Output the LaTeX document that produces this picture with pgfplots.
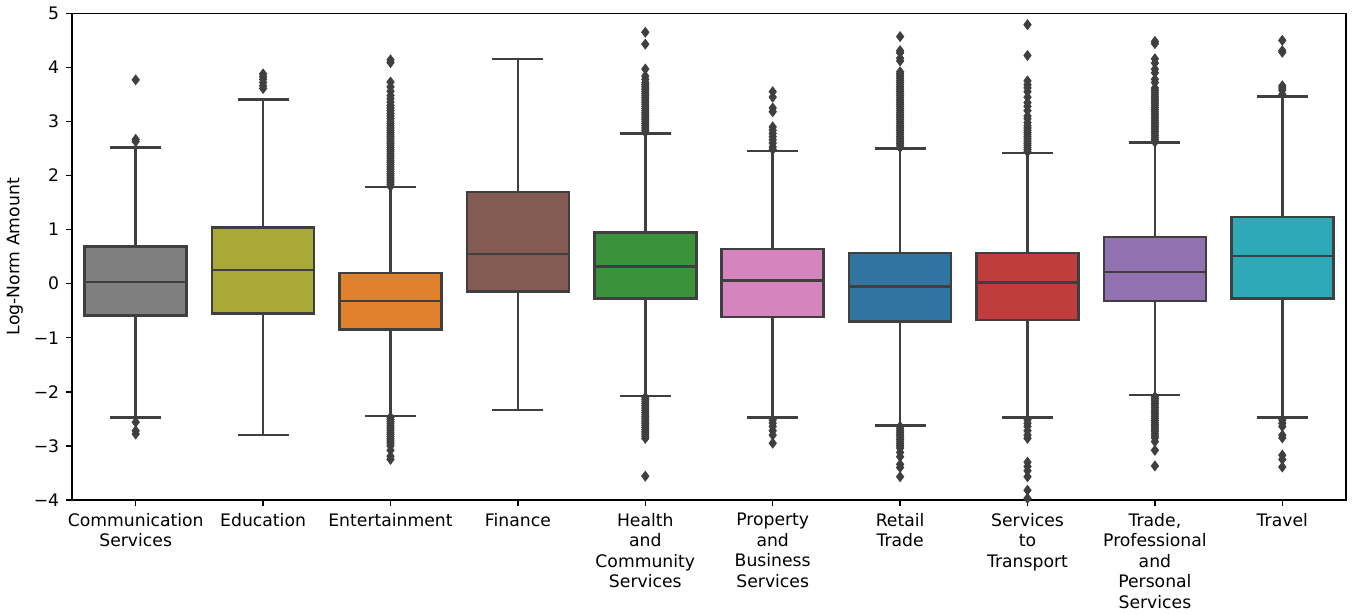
\documentclass[border=0pt]{standalone}
\usepackage{pgfplots}
\pgfplotsset{compat=1.18}
\usepgfplotslibrary{statistics}
\usepackage{fontspec}
\setmainfont{DejaVu Sans}

\definecolor{edge}{HTML}{3F3F3F}
\definecolor{cgray}{HTML}{7F7F7F}
\definecolor{colive}{HTML}{A9A937}
\definecolor{corange}{HTML}{E1812C}
\definecolor{cbrown}{HTML}{845B53}
\definecolor{cgreen}{HTML}{3A923A}
\definecolor{cpink}{HTML}{D684BD}
\definecolor{cblue}{HTML}{3274A1}
\definecolor{cred}{HTML}{C03D3E}
\definecolor{cpurple}{HTML}{9372B2}
\definecolor{ccyan}{HTML}{2DA9B8}

\newcommand{\lblfont}{\fontsize{12.4}{14.8}\selectfont}

\begin{document}
\begin{tikzpicture}
\begin{axis}[
  scale only axis,
  width=917.3pt, height=350.4pt,
  xmin=-0.5, xmax=9.5, ymin=-4, ymax=5,
  xtick={0,...,9},
  xticklabels={{Communication\\Services}, Education, Entertainment, Finance,
    {Health\\and\\Community\\Services}, {Property\\and\\Business\\Services},
    {Retail\\Trade}, {Services\\to\\Transport},
    {Trade,\\Professional\\and\\Personal\\Services}, Travel},
  ytick={-4,...,5},
  yticklabels={−4,−3,−2,−1,0,1,2,3,4,5},
  tick align=outside, tick pos=left,
  major tick length=4.2pt,
  every tick/.style={black, line width=0.96pt},
  axis line style={black, line width=0.96pt},
  tick label style={font=\lblfont},
  xticklabel style={align=center, anchor=north, yshift=-1.8pt},
  yticklabel style={xshift=-1.5pt},
  ylabel={Log-Norm Amount},
  ylabel style={font=\lblfont, yshift=1pt},
  boxplot/draw direction=y,
  boxplot/box extend=0.8,
  boxplot/whisker extend=0.4,
  bx/.style={draw=edge, line width=1.8pt, mark=diamond*, mark size=3.5pt,
    mark options={fill=edge, draw=edge, line width=0.6pt, solid}},
]

% Communication Services
\addplot[bx, fill=cgray, boxplot prepared={draw position=0,
  lower whisker=-2.47, lower quartile=-0.59, median=0.03,
  upper quartile=0.69, upper whisker=2.52}]
  table[row sep=\\, y index=0] {y\\ 3.77\\ 2.67\\ 2.63\\ -2.56\\ -2.72\\ -2.78\\};

% Education
\addplot[bx, fill=colive, boxplot prepared={draw position=1,
  lower whisker=-2.80, lower quartile=-0.55, median=0.25,
  upper quartile=1.04, upper whisker=3.41}]
  table[row sep=\\, y index=0] {y\\ 3.88\\ 3.83\\ 3.78\\ 3.72\\ 3.66\\ 3.61\\};

% Entertainment
\addplot[bx, fill=corange, boxplot prepared={draw position=2,
  lower whisker=-2.45, lower quartile=-0.85, median=-0.32,
  upper quartile=0.20, upper whisker=1.79}]
  table[row sep=\\, y index=0] {y\\
  1.80\\ 1.84\\ 1.88\\ 1.92\\ 1.96\\ 2.00\\ 2.04\\ 2.08\\ 2.12\\ 2.16\\
  2.20\\ 2.24\\ 2.28\\ 2.32\\ 2.36\\ 2.40\\ 2.44\\ 2.48\\ 2.52\\ 2.56\\
  2.60\\ 2.64\\ 2.68\\ 2.72\\ 2.76\\ 2.80\\ 2.84\\ 2.88\\ 2.92\\ 2.96\\
  3.00\\ 3.05\\ 3.10\\ 3.15\\ 3.20\\ 3.25\\ 3.30\\ 3.36\\ 3.42\\ 3.48\\
  3.56\\ 3.64\\ 3.73\\ 4.09\\ 4.14\\
  -2.47\\ -2.51\\ -2.55\\ -2.59\\ -2.63\\ -2.67\\ -2.71\\ -2.75\\ -2.79\\
  -2.83\\ -2.87\\ -2.91\\ -2.95\\ -3.00\\ -3.08\\ -3.19\\ -3.25\\};

% Finance
\addplot[bx, fill=cbrown, boxplot prepared={draw position=3,
  lower whisker=-2.34, lower quartile=-0.14, median=0.55,
  upper quartile=1.70, upper whisker=4.16}]
  coordinates {};

% Health and Community Services
\addplot[bx, fill=cgreen, boxplot prepared={draw position=4,
  lower whisker=-2.08, lower quartile=-0.27, median=0.32,
  upper quartile=0.95, upper whisker=2.78}]
  table[row sep=\\, y index=0] {y\\
  2.80\\ 2.84\\ 2.88\\ 2.92\\ 2.96\\ 3.00\\ 3.04\\ 3.08\\ 3.12\\ 3.16\\
  3.20\\ 3.24\\ 3.28\\ 3.32\\ 3.36\\ 3.40\\ 3.44\\ 3.48\\ 3.52\\ 3.56\\
  3.60\\ 3.64\\ 3.68\\ 3.72\\ 3.78\\ 3.84\\ 3.97\\ 4.43\\ 4.65\\
  -2.10\\ -2.14\\ -2.18\\ -2.22\\ -2.26\\ -2.30\\ -2.34\\ -2.38\\ -2.42\\
  -2.46\\ -2.50\\ -2.54\\ -2.58\\ -2.62\\ -2.66\\ -2.70\\ -2.74\\ -2.78\\
  -2.82\\ -2.86\\ -3.56\\};

% Property and Business Services
\addplot[bx, fill=cpink, boxplot prepared={draw position=5,
  lower whisker=-2.47, lower quartile=-0.62, median=0.06,
  upper quartile=0.64, upper whisker=2.45}]
  table[row sep=\\, y index=0] {y\\
  3.55\\ 3.45\\ 3.25\\ 3.18\\ 2.90\\ 2.84\\ 2.78\\ 2.72\\ 2.66\\ 2.60\\
  2.53\\ 2.48\\ -2.52\\ -2.58\\ -2.64\\ -2.72\\ -2.80\\ -2.95\\};

% Retail Trade
\addplot[bx, fill=cblue, boxplot prepared={draw position=6,
  lower whisker=-2.62, lower quartile=-0.70, median=-0.05,
  upper quartile=0.57, upper whisker=2.50}]
  table[row sep=\\, y index=0] {y\\
  2.52\\ 2.56\\ 2.60\\ 2.64\\ 2.68\\ 2.72\\ 2.76\\ 2.80\\ 2.84\\ 2.88\\
  2.92\\ 2.96\\ 3.00\\ 3.04\\ 3.08\\ 3.12\\ 3.16\\ 3.20\\ 3.24\\ 3.28\\
  3.32\\ 3.36\\ 3.40\\ 3.44\\ 3.48\\ 3.52\\ 3.56\\ 3.60\\ 3.64\\ 3.68\\
  3.72\\ 3.76\\ 3.80\\ 3.84\\ 3.88\\ 3.92\\ 4.12\\ 4.17\\ 4.27\\ 4.31\\
  4.57\\
  -2.64\\ -2.68\\ -2.72\\ -2.76\\ -2.80\\ -2.84\\ -2.88\\ -2.92\\ -2.96\\
  -3.00\\ -3.04\\ -3.12\\ -3.20\\ -3.34\\ -3.40\\ -3.57\\};

% Services to Transport
\addplot[bx, fill=cred, boxplot prepared={draw position=7,
  lower whisker=-2.47, lower quartile=-0.67, median=0.02,
  upper quartile=0.57, upper whisker=2.42}]
  table[row sep=\\, y index=0] {y\\
  2.44\\ 2.48\\ 2.52\\ 2.56\\ 2.60\\ 2.64\\ 2.68\\ 2.72\\ 2.76\\ 2.80\\
  2.84\\ 2.88\\ 2.92\\ 2.98\\ 3.05\\ 3.10\\ 3.20\\ 3.28\\ 3.35\\ 3.45\\
  3.55\\ 3.62\\ 3.68\\ 3.75\\ 4.22\\ 4.79\\
  -2.52\\ -2.58\\ -2.64\\ -2.72\\ -2.80\\ -2.86\\ -3.30\\ -3.38\\ -3.46\\
  -3.57\\ -3.82\\ -3.97\\};

% Trade, Professional and Personal Services
\addplot[bx, fill=cpurple, boxplot prepared={draw position=8,
  lower whisker=-2.06, lower quartile=-0.32, median=0.22,
  upper quartile=0.86, upper whisker=2.61}]
  table[row sep=\\, y index=0] {y\\
  2.62\\ 2.66\\ 2.70\\ 2.74\\ 2.78\\ 2.82\\ 2.86\\ 2.90\\ 2.94\\ 2.98\\
  3.02\\ 3.06\\ 3.10\\ 3.14\\ 3.18\\ 3.22\\ 3.26\\ 3.30\\ 3.34\\ 3.38\\
  3.42\\ 3.46\\ 3.50\\ 3.54\\ 3.58\\ 3.62\\ 3.72\\ 3.78\\ 3.90\\ 3.97\\
  4.08\\ 4.16\\ 4.44\\ 4.48\\
  -2.09\\ -2.13\\ -2.17\\ -2.21\\ -2.25\\ -2.29\\ -2.33\\ -2.37\\ -2.41\\
  -2.45\\ -2.49\\ -2.53\\ -2.57\\ -2.61\\ -2.65\\ -2.69\\ -2.73\\ -2.77\\
  -2.81\\ -2.85\\ -2.92\\ -3.08\\ -3.37\\};

% Travel
\addplot[bx, fill=ccyan, boxplot prepared={draw position=9,
  lower whisker=-2.47, lower quartile=-0.27, median=0.51,
  upper quartile=1.23, upper whisker=3.46}]
  table[row sep=\\, y index=0] {y\\
  3.50\\ 3.58\\ 3.62\\ 3.66\\ 4.28\\ 4.31\\ 4.50\\
  -2.52\\ -2.58\\ -2.64\\ -2.80\\ -2.85\\ -3.17\\ -3.25\\ -3.39\\};

\end{axis}
% page frame around the axis box
\pgfresetboundingbox
\path[use as bounding box] (current axis.south west) ++(-51.84pt,-81.4pt)
  rectangle ([xshift=4.32pt, yshift=9.6pt]current axis.north east);
\end{tikzpicture}
\end{document}
